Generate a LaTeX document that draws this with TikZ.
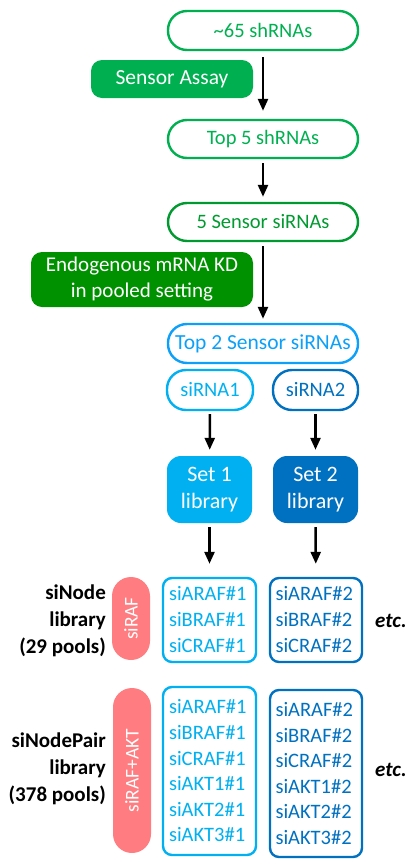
\documentclass[tikz,border=0pt]{standalone}
\usepackage{fontspec}
\setmainfont{Carlito}
\usetikzlibrary{arrows.meta}
\definecolor{gA}{HTML}{00B050}
\definecolor{gB}{HTML}{009A30}
\definecolor{gC}{HTML}{009100}
\definecolor{bA}{HTML}{0CA0F8}
\definecolor{bB}{HTML}{00B0F0}
\definecolor{bC}{HTML}{0070C0}
\definecolor{rA}{HTML}{FF7C80}
\tikzset{
  pill/.style={draw, line width=2.4pt, rounded corners=19pt, minimum width=190pt, minimum height=38pt, inner sep=0pt, font=\fontsize{20.5}{24}\selectfont},
  filled/.style={rounded corners=11pt, inner sep=0pt, text=white, font=\fontsize{21.5}{24}\selectfont, align=center},
  listbox/.style={draw, line width=2.4pt, rounded corners=9pt, inner sep=0pt, align=left, text width=81pt, font=\fontsize{20.5}{26}\selectfont},
  redpill/.style={fill=rA, rounded corners=19pt, minimum width=38pt, inner sep=0pt, text=white, font=\fontsize{19.5}{22}\selectfont},
  lab/.style={align=right, font=\fontsize{21}{27}\bfseries\selectfont, inner sep=0pt, anchor=east},
  etcl/.style={font=\fontsize{21}{24}\bfseries\itshape\selectfont, inner sep=0pt, anchor=west},
  arr/.style={line width=2.5pt, -{Triangle[width=10pt,length=12pt]}}
}
\begin{document}
\begin{tikzpicture}[x=1pt,y=-1pt]
\useasboundingbox (0,0) rectangle (412,865);
\node[pill, draw=gA, text=gA, minimum height=39pt] (n65) at (263,30.5) {\textasciitilde65 shRNAs};
\node[filled, fill=gA, minimum width=162pt, minimum height=38pt] (assay) at (172,79) {Sensor Assay};
\node[pill, draw=gA, text=gA] (top5) at (263,139) {Top 5 shRNAs};
\node[pill, draw=gB, text=gB] (sens5) at (263,222) {5 Sensor siRNAs};
\node[filled, fill=gC, minimum width=222pt, minimum height=55pt, font=\fontsize{21}{26}\selectfont] (endo) at (142,279.5) {Endogenous mRNA KD\\in pooled setting};
\node[pill, draw=bA, text=bA, minimum height=39pt, font=\fontsize{21.5}{24}\selectfont] (top2) at (263,343.5) {Top 2 Sensor siRNAs};
\node[pill, draw=bB, text=bB, minimum width=86pt, minimum height=40pt] (si1) at (210,390) {siRNA1};
\node[pill, draw=bC, text=bC, minimum width=85pt, minimum height=40pt] (si2) at (315.5,390) {siRNA2};
\node[filled, fill=bB, rounded corners=14pt, minimum width=85pt, minimum height=67pt, font=\fontsize{22}{27}\selectfont] (set1) at (209.5,489.5) {Set 1\\library};
\node[filled, fill=bC, rounded corners=14pt, minimum width=85pt, minimum height=67pt, font=\fontsize{22}{27}\selectfont] (set2) at (315.5,489.5) {Set 2\\library};
\node[listbox, draw=bB, text=bB, minimum width=93pt, minimum height=84pt] (l1a) at (209.5,620) {siARAF\#1\\siBRAF\#1\\siCRAF\#1};
\node[listbox, draw=bC, text=bC, minimum width=92pt, minimum height=84pt] (l2a) at (316,620) {siARAF\#2\\siBRAF\#2\\siCRAF\#2};
\node[redpill, minimum height=83pt] (p1) at (131,618.5) {\rotatebox{90}{siRAF}};
\node[listbox, draw=bB, text=bB, minimum width=93pt, minimum height=168pt, font=\fontsize{20.5}{25.6}\selectfont] (l1b) at (209.5,771) {siARAF\#1\\siBRAF\#1\\siCRAF\#1\\siAKT1\#1\\siAKT2\#1\\siAKT3\#1};
\node[listbox, draw=bC, text=bC, minimum width=92pt, minimum height=167pt, font=\fontsize{20.5}{25.6}\selectfont] (l2b) at (316,773.5) {siARAF\#2\\siBRAF\#2\\siCRAF\#2\\siAKT1\#2\\siAKT2\#2\\siAKT3\#2};
\node[redpill, minimum height=165pt] (p2) at (132,770.5) {\rotatebox{90}{siRAF+AKT}};
\node[lab] (lab1) at (106,621) {siNode\\library\\(29 pools)};
\node[lab] (lab2) at (106,769) {siNodePair\\library\\(378 pools)};
\node[etcl] (etc1) at (375,621) {etc.};
\node[etcl] (etc2) at (375,770) {etc.};
\draw[arr, shorten <=6pt, shorten >=8pt] (n65) -- (top5);
\draw[arr, shorten <=4pt, shorten >=5pt] (top5) -- (sens5);
\draw[arr, shorten <=4pt, shorten >=4pt] (sens5) -- (top2);
\draw[arr, shorten <=3pt, shorten >=6pt] (si1) -- (set1);
\draw[arr, shorten <=3pt, shorten >=6pt] (si2) -- (set2);
\draw[arr, shorten <=4pt, shorten >=13pt] (set1) -- (l1a);
\draw[arr, shorten <=4pt, shorten >=13pt] (set2) -- (l2a);
\end{tikzpicture}
\end{document}
